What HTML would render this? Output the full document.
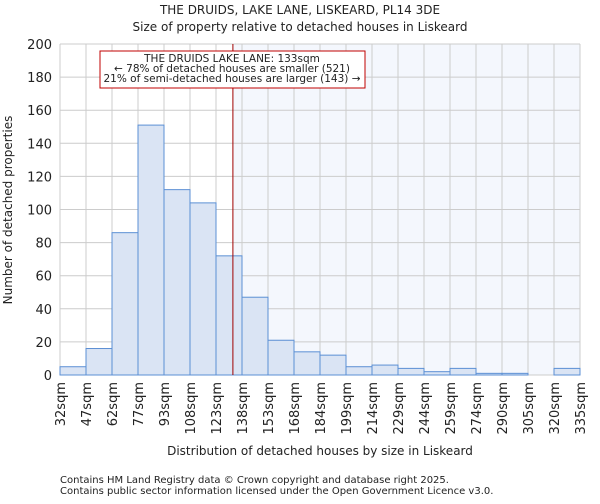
<!DOCTYPE html>
<html><head><meta charset="utf-8"><style>
body{margin:0;background:#fff;font-family:"DejaVu Sans","Liberation Sans",sans-serif}
svg text{font-family:"DejaVu Sans","Liberation Sans",sans-serif;fill:#222}
</style></head><body>
<svg id="chart" width="600" height="500" xmlns="http://www.w3.org/2000/svg">
<text x="300" y="14" font-size="12" text-anchor="middle">THE DRUIDS, LAKE LANE, LISKEARD, PL14 3DE</text>
<text x="300" y="31" font-size="12" text-anchor="middle">Size of property relative to detached houses in Liskeard</text>
<g id="grid"></g><g id="bars"></g><g id="axes"></g>
<text x="320" y="455" font-size="12" text-anchor="middle">Distribution of detached houses by size in Liskeard</text>
<text transform="translate(12,210) rotate(-90)" font-size="12" text-anchor="middle">Number of detached properties</text>
<text x="60" y="483" font-size="10" fill="#444">Contains HM Land Registry data © Crown copyright and database right 2025.</text>
<text x="60" y="494" font-size="10" fill="#444">Contains public sector information licensed under the Open Government Licence v3.0.</text>
</svg>
<script>
const categories=["32sqm","47sqm","62sqm","77sqm","93sqm","108sqm","123sqm","138sqm","153sqm","168sqm","184sqm","199sqm","214sqm","229sqm","244sqm","259sqm","274sqm","290sqm","305sqm","320sqm","335sqm"];
const counts=[5,16,86,151,112,104,72,47,21,14,12,5,6,4,2,4,1,1,0,4];
const yTicks=[0,20,40,60,80,100,120,140,160,180,200];
const markerBin=6.65;
const X0=60,X1=580,Y0=375,Y1=44,YMAX=200;
const bw=(X1-X0)/counts.length;
const xs=i=>X0+i*bw, ys=v=>Y0-(Y0-Y1)*v/YMAX;
const NS="http://www.w3.org/2000/svg";
function mk(t,a,p){const e=document.createElementNS(NS,t);for(const k in a)e.setAttribute(k,a[k]);p.appendChild(e);return e;}
const grid=document.getElementById('grid'),bars=document.getElementById('bars'),axes=document.getElementById('axes');
const mx=xs(markerBin);
const sh=mk('rect',{x:mx,y:Y1,width:X1-mx,height:Y0-Y1,fill:'#f4f7fd'},grid);


for(let i=0;i<=counts.length;i++){mk('line',{x1:xs(i),x2:xs(i),y1:Y1,y2:Y0,stroke:'#cccccc','stroke-width':1},grid);}
yTicks.forEach(v=>{mk('line',{x1:X0,x2:X1,y1:ys(v),y2:ys(v),stroke:'#cccccc','stroke-width':1},grid);
const t=mk('text',{x:X0-8,y:ys(v)+5,'font-size':13,'text-anchor':'end'},axes);t.textContent=v;

});
counts.forEach((c,i)=>{const r=mk('rect',{x:xs(i),y:ys(c),width:bw,height:Y0-ys(c),fill:'#dae4f4',stroke:'#5b8fd4','stroke-width':1},bars);

});
categories.forEach((c,i)=>{const x=xs(i);const t=mk('text',{transform:`translate(${x+5},${Y0+7}) rotate(-90)`,'font-size':13,'text-anchor':'end'},axes);t.textContent=c;

});
const ml=mk('line',{x1:mx,x2:mx,y1:Y1,y2:Y0,stroke:'#a00000','stroke-width':1},bars);


const box=mk('rect',{x:100,y:51,width:265,height:37,fill:'#fff',stroke:'#c00000','stroke-width':1},bars);


["THE DRUIDS LAKE LANE: 133sqm","← 78% of detached houses are smaller (521)","21% of semi-detached houses are larger (143) →"].forEach((s,i)=>{
const t=mk('text',{x:232,y:62+i*10,'font-size':10.5,'text-anchor':'middle',fill:'#111'},bars);t.textContent=s;

});
</script>
</body></html>
